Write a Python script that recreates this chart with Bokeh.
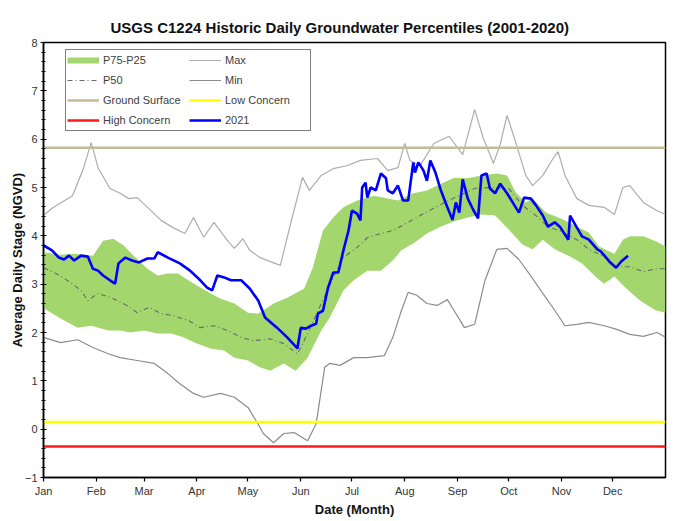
from bokeh.plotting import figure
from bokeh.models import Range1d, FixedTicker, Legend, LegendItem
from bokeh.embed import file_html
from bokeh.resources import INLINE

TITLE = "USGS C1224 Historic Daily Groundwater Percentiles (2001-2020)"
X_LABEL = "Date (Month)"
Y_LABEL = "Average Daily Stage (NGVD)"

month_labels = ["Jan", "Feb", "Mar", "Apr", "May", "Jun", "Jul", "Aug", "Sep", "Oct", "Nov", "Dec"]
month_days = [0, 31, 59, 90, 120, 151, 181, 212, 243, 273, 304, 334]
year_end = 365

y_ticks = [-1, 0, 1, 2, 3, 4, 5, 6, 7, 8]

ground_surface = 5.82
low_concern = 0.15
high_concern = -0.36

max_days = [0, 5, 17, 23, 28, 32, 39, 45, 50, 55, 61, 69, 76, 83, 88, 94, 100, 108, 112, 117, 121,
            127, 139, 145, 152, 156, 163, 170, 178, 186, 196, 202, 208, 212, 215, 221, 229, 238, 246,
            253, 258, 264, 268, 272, 277, 283, 287, 293, 299, 302, 306, 313, 320, 329, 335, 340, 344,
            352, 360, 365]
max_vals = [4.42, 4.57, 4.83, 5.35, 5.93, 5.41, 4.98, 4.88, 4.77, 4.79, 4.59, 4.32, 4.17, 4.05, 4.38,
            3.97, 4.28, 3.90, 3.74, 3.94, 3.70, 3.55, 3.39, 4.25, 5.21, 4.94, 5.25, 5.39, 5.45, 5.56,
            5.60, 5.35, 5.41, 5.91, 5.56, 5.45, 5.91, 6.06, 5.68, 6.61, 6.03, 5.50, 5.89, 6.49, 5.95,
            5.25, 5.04, 5.25, 5.60, 5.74, 5.25, 4.77, 4.63, 4.59, 4.44, 5.00, 5.04, 4.69, 4.52, 4.44]

min_days = [0, 10, 20, 29, 38, 45, 55, 65, 73, 80, 88, 94, 104, 112, 120, 126, 129, 135, 141, 147,
            155, 160, 165, 168, 174, 182, 190, 200, 205, 210, 214, 219, 225, 231, 237, 241, 245, 247,
            253, 259, 266, 272, 279, 285, 293, 300, 306, 313, 320, 329, 336, 344, 352, 360, 365]
min_vals = [1.90, 1.79, 1.85, 1.69, 1.56, 1.48, 1.42, 1.36, 1.15, 0.94, 0.74, 0.66, 0.74, 0.66, 0.45,
            0.10, -0.09, -0.28, -0.09, -0.07, -0.24, 0.11, 1.28, 1.36, 1.32, 1.48, 1.48, 1.52, 1.90,
            2.45, 2.83, 2.77, 2.60, 2.56, 2.68, 2.45, 2.22, 2.10, 2.17, 3.07, 3.72, 3.74, 3.51, 3.22,
            2.81, 2.46, 2.14, 2.17, 2.21, 2.14, 2.07, 1.96, 1.92, 2.00, 1.90]

p75_days = [0, 10, 18, 29, 35, 41, 47, 54, 61, 67, 73, 79, 85, 90, 98, 104, 112, 120, 126, 135, 143,
            153, 158, 164, 170, 176, 184, 194, 200, 208, 217, 225, 233, 241, 249, 257, 266, 272, 277,
            283, 287, 295, 305, 313, 320, 326, 335, 340, 344, 352, 360, 365]
p75_vals = [3.66, 3.61, 3.63, 3.59, 3.90, 3.94, 3.80, 3.55, 3.32, 3.18, 3.22, 3.22, 3.08, 2.97, 2.81,
            2.70, 2.60, 2.41, 2.39, 2.60, 2.72, 2.91, 3.34, 4.11, 4.38, 4.59, 4.73, 4.83, 4.79, 4.73,
            4.88, 4.94, 5.07, 5.20, 5.19, 5.25, 5.29, 5.25, 4.90, 4.69, 4.77, 4.48, 4.34, 4.19, 4.07,
            3.78, 3.63, 3.92, 3.99, 3.99, 3.88, 3.78]

p25_days = [0, 10, 20, 28, 38, 45, 51, 59, 67, 75, 82, 90, 98, 106, 112, 120, 127, 133, 141, 148, 155,
            163, 168, 176, 182, 190, 198, 205, 210, 217, 225, 233, 241, 249, 257, 265, 273, 281, 287,
            293, 300, 309, 316, 325, 329, 335, 342, 350, 359, 365]
p25_vals = [2.50, 2.29, 2.10, 2.14, 2.04, 2.04, 2.00, 2.04, 1.98, 1.98, 1.90, 1.77, 1.67, 1.63, 1.48,
            1.42, 1.28, 1.21, 1.36, 1.21, 1.48, 2.04, 2.31, 2.87, 3.08, 3.28, 3.28, 3.49, 3.70, 3.84,
            4.05, 4.19, 4.30, 4.38, 4.44, 4.42, 4.13, 3.82, 3.72, 3.92, 3.72, 3.57, 3.43, 3.12, 3.01,
            3.16, 2.91, 2.66, 2.46, 2.41]

p50_days = [0, 8, 16, 22, 26, 32, 41, 49, 55, 62, 69, 76, 85, 92, 100, 108, 116, 123, 133, 141, 149,
            155, 163, 170, 176, 184, 190, 198, 205, 214, 221, 229, 237, 245, 253, 263, 273, 281, 289,
            296, 305, 313, 320, 329, 336, 344, 352, 360, 365]
p50_vals = [3.34, 3.21, 3.03, 2.87, 2.66, 2.81, 2.70, 2.56, 2.41, 2.52, 2.39, 2.35, 2.25, 2.10, 2.14,
            2.04, 1.90, 1.83, 1.87, 1.77, 1.56, 1.98, 2.60, 3.14, 3.55, 3.76, 3.96, 4.05, 4.11, 4.28,
            4.42, 4.57, 4.72, 4.85, 4.98, 5.00, 4.98, 4.63, 4.42, 4.19, 4.07, 3.92, 3.72, 3.57, 3.36,
            3.36, 3.26, 3.32, 3.32]

y2021_days = [0, 5, 9, 12, 15, 18, 22, 26, 29, 32, 35, 39, 42, 44, 48, 52, 56, 61, 65, 67, 73, 80, 86,
              92, 96, 99, 102, 106, 110, 116, 121, 126, 130, 137, 143, 149, 151, 154, 157, 160, 161,
              164, 167, 170, 173, 176, 179, 181, 184, 186, 187, 189, 190, 192, 195, 198, 201, 202, 205,
              208, 211, 214, 217, 218, 220, 223, 225, 227, 230, 233, 236, 240, 242, 244, 246, 249, 252,
              255, 257, 260, 262, 265, 268, 272, 279, 282, 286, 289, 293, 296, 300, 303, 308, 309, 313,
              316, 320, 325, 327, 332, 336, 339, 343]
y2021_vals = [3.80, 3.70, 3.55, 3.51, 3.59, 3.49, 3.59, 3.57, 3.32, 3.28, 3.18, 3.08, 3.01, 3.43, 3.55,
              3.49, 3.45, 3.53, 3.53, 3.66, 3.55, 3.43, 3.28, 3.08, 2.93, 2.87, 3.18, 3.14, 3.08, 3.08,
              2.91, 2.66, 2.31, 2.10, 1.90, 1.67, 2.10, 2.08, 2.14, 2.18, 2.39, 2.45, 2.93, 3.24, 3.24,
              3.70, 4.11, 4.52, 4.46, 4.32, 5.00, 5.10, 4.79, 5.00, 4.94, 5.29, 5.19, 4.94, 4.88, 5.04,
              4.73, 4.73, 5.52, 5.31, 5.52, 5.35, 5.14, 5.56, 5.31, 4.96, 4.68, 4.33, 4.69, 4.48, 5.17,
              4.77, 4.55, 4.36, 5.25, 5.29, 4.98, 4.88, 5.08, 4.88, 4.48, 4.79, 4.77, 4.63, 4.42, 4.19,
              4.28, 4.19, 3.92, 4.42, 4.17, 3.99, 3.92, 3.72, 3.68, 3.47, 3.34, 3.47, 3.59]

FONT = "Liberation Sans"

p = figure(width=676, height=519, x_range=Range1d(0, year_end), y_range=Range1d(-1, 8),
           output_backend="svg", toolbar_location=None,
           min_border_left=43, min_border_right=11, min_border_top=42, min_border_bottom=42)

p.title.text = TITLE
p.title.align = "left"
p.title.offset = 67
p.title.text_font = FONT
p.title.text_font_size = "15px"
p.title.text_font_style = "bold"
p.title.text_color = "#111111"
p.title.standoff = 14

p.xgrid.visible = False
p.ygrid.visible = False
p.outline_line_color = "black"
p.outline_line_width = 1.5
p.background_fill_color = "white"
p.border_fill_color = "white"

# P75-P25 band as a polygon (upper edge forward, lower edge back)
band = p.patch(x=p75_days + p25_days[::-1], y=p75_vals + p25_vals[::-1],
               fill_color="#A3D76E", line_color=None)
# legend key for the band (a thick bar, drawn nowhere on the plot)
band_key = p.line(x=[float("nan")], y=[float("nan")], line_color="#A3D76E", line_width=6)

max_r = p.line(max_days, max_vals, line_color="#ADADAD", line_width=1.2)
min_r = p.line(min_days, min_vals, line_color="#8C8C8C", line_width=1.2)
p50_r = p.line(p50_days, p50_vals, line_color="#6A6A6A", line_width=1.1, line_dash="5 3 1 3")

x_span = [0, year_end]
gs_r = p.line(x_span, [ground_surface, ground_surface], line_color="#C5BB98", line_width=2.5)
lc_r = p.line(x_span, [low_concern, low_concern], line_color="#FFFF00", line_width=2.5)
hc_r = p.line(x_span, [high_concern, high_concern], line_color="#FF1A1A", line_width=2.5)

blue_r = p.line(y2021_days, y2021_vals, line_color="#0000FF", line_width=2.6)

# axes
p.xaxis.ticker = FixedTicker(ticks=month_days)
p.xaxis.major_label_overrides = {d: m for d, m in zip(month_days, month_labels)}
p.xaxis.major_tick_in = 0
p.xaxis.major_tick_out = 4
p.xaxis.axis_label = X_LABEL

minor = [round(-1 + 0.2 * i, 1) for i in range(46)]
p.yaxis.ticker = FixedTicker(ticks=y_ticks, minor_ticks=minor)
p.yaxis.major_tick_in = 3
p.yaxis.major_tick_out = 3
p.yaxis.minor_tick_in = 2
p.yaxis.minor_tick_out = 2
p.yaxis.axis_label = Y_LABEL

for ax in (p.xaxis[0], p.yaxis[0]):
    ax.axis_line_color = "black"
    ax.axis_line_width = 1.5
    ax.major_tick_line_color = "black"
    ax.major_tick_line_width = 1.2
    ax.major_label_text_font = FONT
    ax.major_label_text_font_size = "11px"
    ax.major_label_text_color = "#333333"
    ax.axis_label_text_font = FONT
    ax.axis_label_text_font_size = "13px"
    ax.axis_label_text_font_style = "bold"
    ax.axis_label_text_color = "#111111"
    ax.major_label_standoff = 3
    ax.axis_label_standoff = 2
p.yaxis.axis_label_standoff = -3
p.xaxis.minor_tick_line_color = None
p.yaxis.minor_tick_line_color = "black"

items = [
    LegendItem(label="P75-P25", renderers=[band_key]),
    LegendItem(label="Max", renderers=[max_r]),
    LegendItem(label="P50", renderers=[p50_r]),
    LegendItem(label="Min", renderers=[min_r]),
    LegendItem(label="Ground Surface", renderers=[gs_r]),
    LegendItem(label="Low Concern", renderers=[lc_r]),
    LegendItem(label="High Concern", renderers=[hc_r]),
    LegendItem(label="2021", renderers=[blue_r]),
]
legend = Legend(items=items, location=(22, 346), orientation="horizontal", ncols=2,
                label_text_font=FONT, label_text_font_size="11px", label_text_color="#404040",
                glyph_width=32, glyph_height=18, label_height=18, label_standoff=4,
                label_width=84, spacing=2, padding=1, margin=0,
                border_line_color="black", border_line_width=1.5,
                background_fill_color="white", background_fill_alpha=1.0)
p.add_layout(legend, "center")

open("out.html", "w").write(file_html(p, INLINE))
